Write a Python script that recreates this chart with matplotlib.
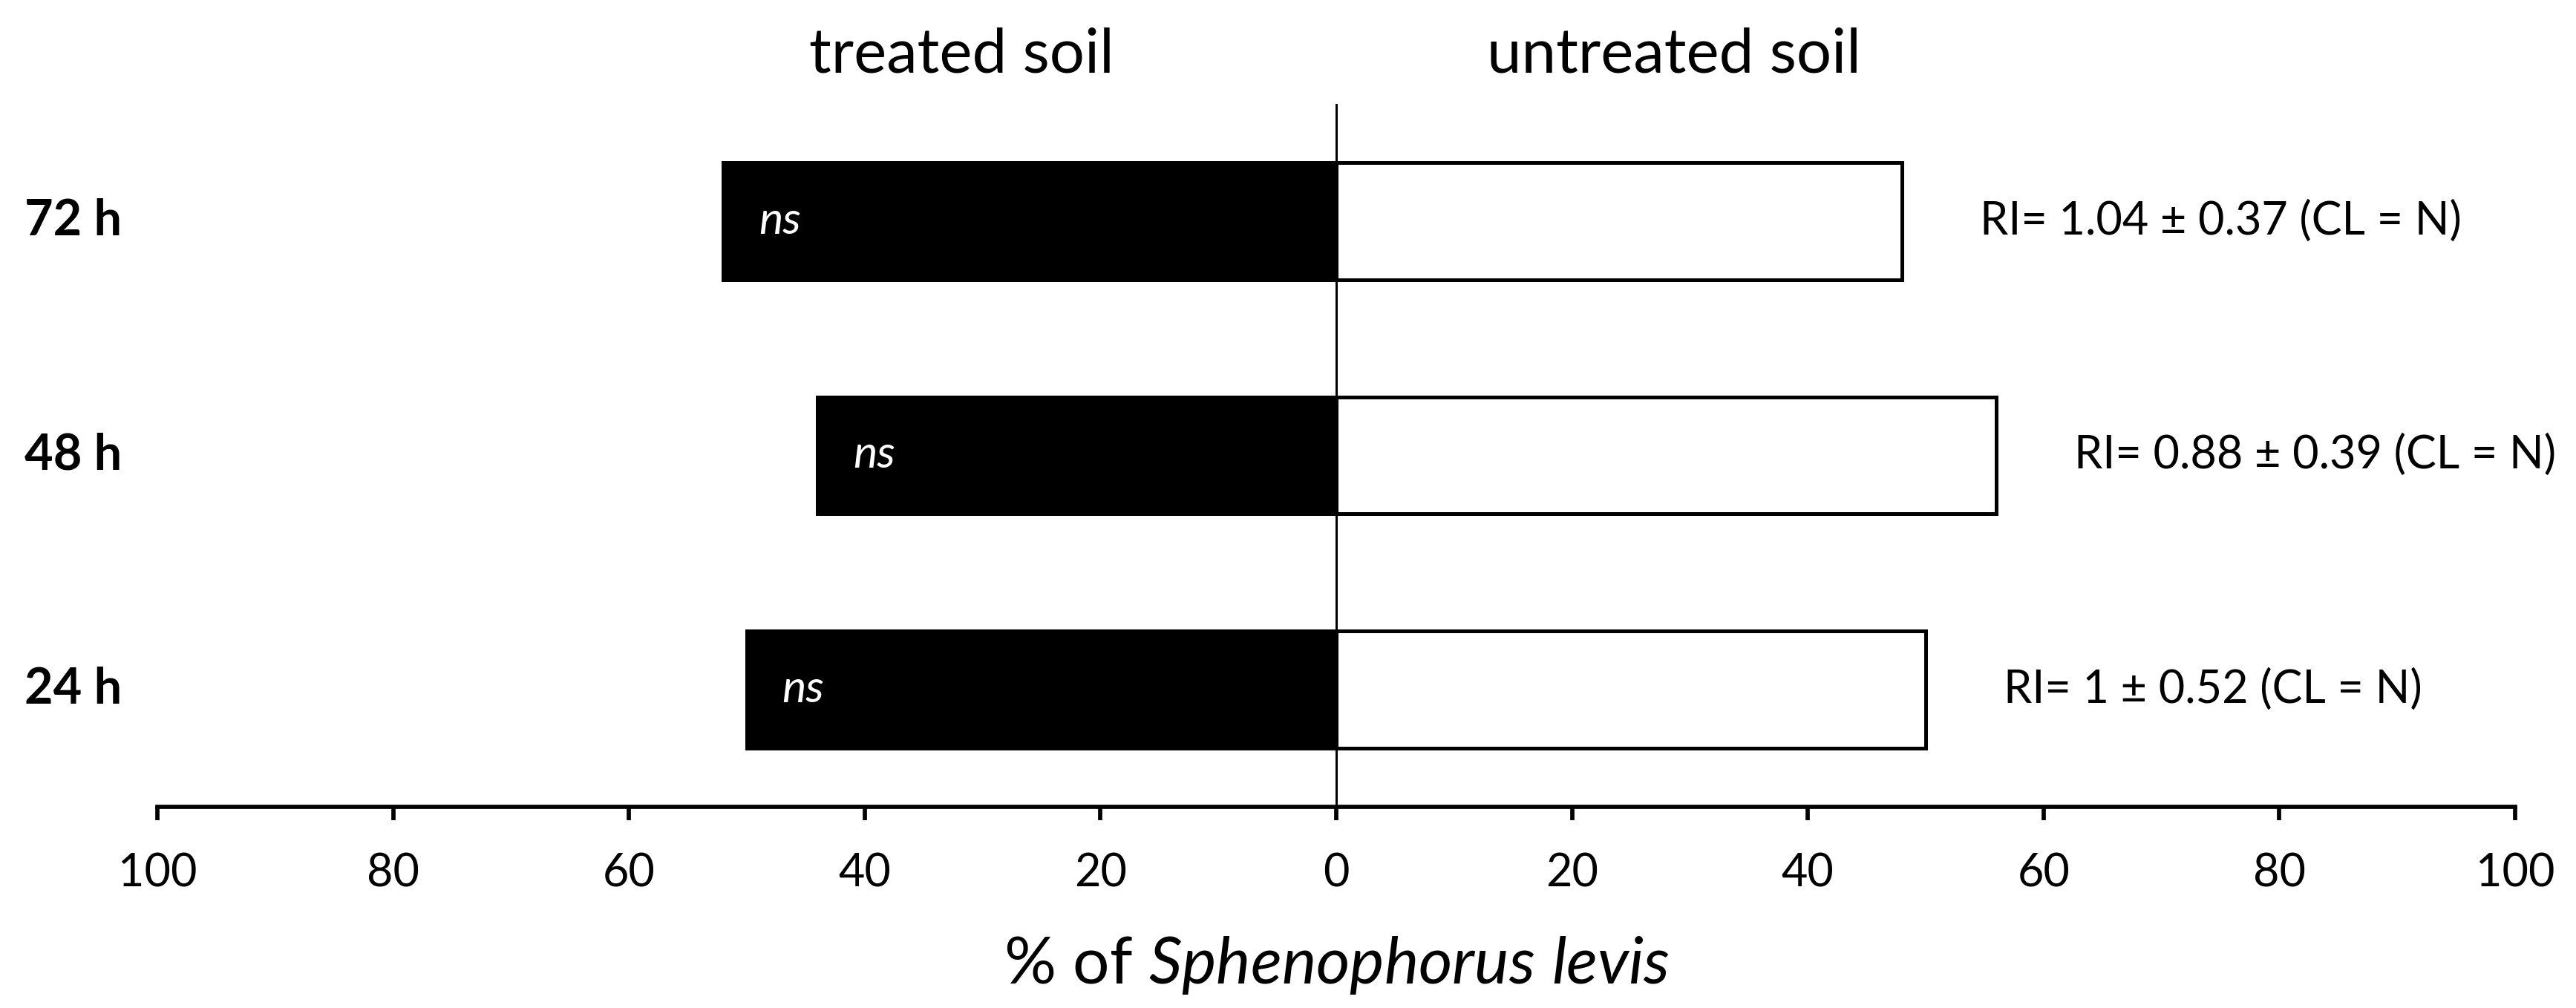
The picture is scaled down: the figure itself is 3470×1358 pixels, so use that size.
import matplotlib
matplotlib.use('Agg')
import numpy as np
import matplotlib.pyplot as plt
import matplotlib.transforms as mtransforms

plt.rcParams['font.family'] = ['Lato', 'DejaVu Sans']
plt.rcParams['mathtext.fontset'] = 'custom'
plt.rcParams['mathtext.rm'] = 'Lato'
plt.rcParams['mathtext.it'] = 'Lato:italic'

# data, bottom row first
times = ['24 h', '48 h', '72 h']
treated = [50, 44, 52]
untreated = [50, 56, 48]
signif = ['ns', 'ns', 'ns']
ri_labels = ['RI= 1 ± 0.52 (CL = N)',
             'RI= 0.88 ± 0.39 (CL = N)',
             'RI= 1.04 ± 0.37 (CL = N)']
xticks = [-100, -80, -60, -40, -20, 0, 20, 40, 60, 80, 100]

W, H = 3470, 1358
fig = plt.figure(figsize=(W / 100, H / 100), dpi=100)
ax = fig.add_axes([212 / W, 271 / H, 3176 / W, 947 / H])

y = np.arange(len(times))
ax.barh(y, -np.array(treated), height=0.5, color='black',
        edgecolor='black', linewidth=3.6)
ax.barh(y, untreated, height=0.5, color='white',
        edgecolor='black', linewidth=3.6)
ax.axvline(0, color='black', lw=2.2, zorder=3)

ax.set_xlim(-100, 100)
ax.set_ylim(-0.5, 2.5)

for s in ['left', 'top', 'right']:
    ax.spines[s].set_visible(False)
ax.spines['bottom'].set_linewidth(4.1)

ax.set_xticks(xticks, [str(abs(t)) for t in xticks])
ax.set_yticks([])
ax.tick_params(axis='x', direction='out', length=13, width=4.1,
               pad=31, labelsize=44)

# row labels at the far left
trans = mtransforms.blended_transform_factory(fig.transFigure, ax.transData)
for yi, t in zip(y, times):
    ax.text(33 / W, yi, t, transform=trans, ha='left', va='center',
            fontsize=48, fontweight='bold')

# significance inside the black bars, RI next to the white bars
for yi, v, s in zip(y, treated, signif):
    ax.text(-v + 3, yi, s, color='white', style='italic', fontsize=44,
            ha='left', va='center')
for yi, v, r in zip(y, untreated, ri_labels):
    ax.text(v + 6.6, yi, r, fontsize=44, ha='left', va='center')

fig.text(1295 / W, 1 - 98 / H, 'treated soil', ha='center',
         va='baseline', fontsize=60)
fig.text(2255 / W, 1 - 98 / H, 'untreated soil', ha='center',
         va='baseline', fontsize=60)
fig.text(1800 / W, 1 - 1325 / H, r'% of $\mathit{Sphenophorus\ levis}$',
         ha='center', va='baseline', fontsize=63)

fig.savefig('out.png', dpi=100)
